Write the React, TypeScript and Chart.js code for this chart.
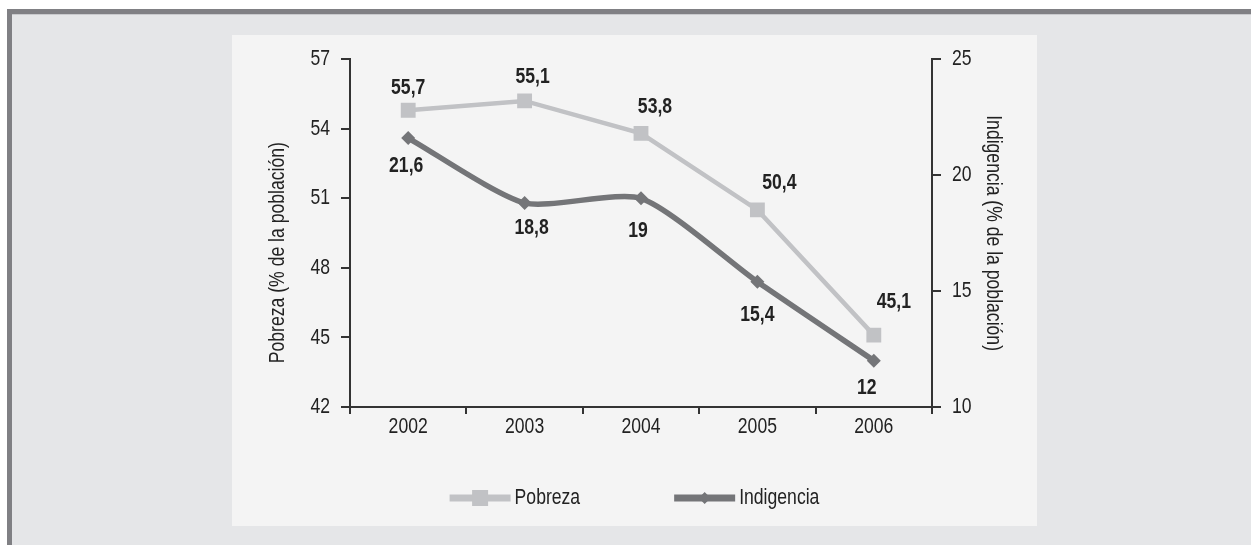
import React, { useEffect, useRef } from "react";
import { Chart, registerables } from "chart.js";

Chart.register(...registerables);

// ---- data ----
const years = ["2002", "2003", "2004", "2005", "2006"];
const pobrezaValues = [54.8, 55.2, 53.8, 50.5, 45.1];
const pobrezaLabels = ["55,7", "55,1", "53,8", "50,4", "45,1"];
const indigenciaValues = [21.6, 18.8, 19.0, 15.4, 12.0];
const indigenciaLabels = ["21,6", "18,8", "19", "15,4", "12"];
const pobrezaTicks = [42, 45, 48, 51, 54, 57];
const indigenciaTicks = [10, 15, 20, 25];
const seriesNames = ["Pobreza", "Indigencia"];
const leftTitle = "Pobreza (% de la población)";
const rightTitle = "Indigencia (% de la población)";

// ---- style / layout ----
const FONT = "'Liberation Sans', Arial, sans-serif";
const FS = 22;
const NARROW = 0.8; // horizontal squeeze to mimic Arial Narrow
const TEXT = "#222222";
const AXIS = "#333333";
const POB_COLOR = "#c1c2c5";
const IND_COLOR = "#747578";
const pobrezaNudge = [[0, -22], [8, -24], [14, -26], [22, -27], [20, -33]];
const indigenciaNudge = [[-2, 28], [7, 25], [-3, 33], [0, 33], [-7, 27]];

const labelsPlugin = {
  id: "valueLabels",
  afterDatasetsDraw(chart: any) {
    const ctx = chart.ctx;
    ctx.save();
    ctx.font = `bold ${FS}px ${FONT}`;
    ctx.fillStyle = TEXT;
    ctx.textAlign = "center";
    ctx.textBaseline = "middle";
    const sets = [
      { meta: chart.getDatasetMeta(0), labels: pobrezaLabels, nudge: pobrezaNudge },
      { meta: chart.getDatasetMeta(1), labels: indigenciaLabels, nudge: indigenciaNudge },
    ];
    sets.forEach(({ meta, labels, nudge }) => {
      meta.data.forEach((pt: any, i: number) => {
        ctx.fillText(labels[i], pt.x + nudge[i][0], pt.y + nudge[i][1]);
      });
    });
    ctx.restore();
  },
};

const legendPlugin = {
  id: "customLegend",
  afterDraw(chart: any) {
    const ctx = chart.ctx;
    ctx.save();
    ctx.font = `${FS}px ${FONT}`;
    ctx.textBaseline = "middle";
    ctx.textAlign = "left";
    const lineLen = 61;
    const gap = 4;
    const between = 94;
    const widths = seriesNames.map((n) => lineLen + gap + ctx.measureText(n).width);
    const total = widths[0] + widths[1] + between;
    let x = (chart.width - total) / 2;
    const y = chart.chartArea.bottom + 91;
    seriesNames.forEach((name, i) => {
      const color = i === 0 ? POB_COLOR : IND_COLOR;
      ctx.strokeStyle = color;
      ctx.lineWidth = 7;
      ctx.beginPath();
      ctx.moveTo(x, y);
      ctx.lineTo(x + lineLen, y);
      ctx.stroke();
      const cx = x + lineLen / 2;
      ctx.fillStyle = color;
      if (i === 0) {
        ctx.fillRect(cx - 8, y - 8, 16, 16);
      } else {
        ctx.beginPath();
        ctx.moveTo(cx - 6, y);
        ctx.lineTo(cx, y - 6);
        ctx.lineTo(cx + 6, y);
        ctx.lineTo(cx, y + 6);
        ctx.closePath();
        ctx.fill();
      }
      ctx.fillStyle = TEXT;
      ctx.fillText(name, x + lineLen + gap, y);
      x += widths[i] + between;
    });
    ctx.restore();
  },
};

function squeezeText(ctx: any) {
  const origFill = ctx.fillText.bind(ctx);
  const origMeasure = ctx.measureText.bind(ctx);
  ctx.fillText = (t: string, x: number, y: number) => {
    ctx.save();
    ctx.translate(x, y);
    ctx.scale(NARROW, 1);
    origFill(t, 0, 0);
    ctx.restore();
  };
  ctx.measureText = (t: string) => {
    const m = origMeasure(t);
    return {
      width: m.width * NARROW,
      actualBoundingBoxAscent: m.actualBoundingBoxAscent,
      actualBoundingBoxDescent: m.actualBoundingBoxDescent,
      actualBoundingBoxLeft: m.actualBoundingBoxLeft * NARROW,
      actualBoundingBoxRight: m.actualBoundingBoxRight * NARROW,
    };
  };
}

function ChartCanvas() {
  const ref = useRef<HTMLCanvasElement | null>(null);
  useEffect(() => {
    if (!ref.current) return;
    squeezeText(ref.current.getContext("2d"));
    const tickFont = { family: FONT, size: FS };
    const chart = new Chart(ref.current, {
      type: "line",
      data: {
        labels: years,
        datasets: [
          {
            label: seriesNames[0],
            data: pobrezaValues,
            yAxisID: "y",
            borderColor: POB_COLOR,
            backgroundColor: POB_COLOR,
            borderWidth: 4.5,
            pointStyle: "rect",
            pointRadius: 10.5,
            pointBorderWidth: 0,
            tension: 0,
          },
          {
            label: seriesNames[1],
            data: indigenciaValues,
            yAxisID: "y1",
            borderColor: IND_COLOR,
            backgroundColor: IND_COLOR,
            borderWidth: 5.5,
            pointStyle: "rectRot",
            pointRadius: 7,
            pointBorderWidth: 0,
            tension: 0.22,
          },
        ],
      },
      options: {
        animation: false,
        responsive: false,
        maintainAspectRatio: false,
        layout: { padding: { top: 24, left: 0, right: 0, bottom: 0 } },
        plugins: { legend: { display: false }, tooltip: { enabled: false } },
        scales: {
          x: {
            type: "category",
            offset: true,
            grid: { offset: true, drawOnChartArea: false, drawTicks: true, tickLength: 7, color: AXIS, lineWidth: 2 },
            border: { display: true, color: AXIS, width: 2 },
            ticks: { font: tickFont, color: TEXT, padding: 0 },
            afterFit: (s: any) => { s.height = 119; },
          },
          y: {
            position: "left",
            min: 42,
            max: 57,
            afterBuildTicks: (s: any) => { s.ticks = pobrezaTicks.map((v) => ({ value: v })); },
            grid: { drawOnChartArea: false, drawTicks: true, tickLength: 9, color: AXIS, lineWidth: 2 },
            border: { display: true, color: AXIS, width: 2 },
            ticks: { font: tickFont, color: TEXT, padding: 11 },
            title: { display: true, text: leftTitle + "        ", font: tickFont, color: TEXT, padding: { top: 33, bottom: 0 } },
            afterFit: (s: any) => { s.width = 118; },
          },
          y1: {
            position: "right",
            min: 10,
            max: 25,
            afterBuildTicks: (s: any) => { s.ticks = indigenciaTicks.map((v) => ({ value: v })); },
            grid: { drawOnChartArea: false, drawTicks: true, tickLength: 9, color: AXIS, lineWidth: 2 },
            border: { display: true, color: AXIS, width: 2 },
            ticks: { font: tickFont, color: TEXT, padding: 11 },
            title: { display: true, text: rightTitle, font: tickFont, color: TEXT, padding: { top: 31, bottom: 0 } },
            afterFit: (s: any) => { s.width = 105; },
          },
        },
      } as any,
      plugins: [labelsPlugin, legendPlugin],
    });
    return () => chart.destroy();
  }, []);
  return (
    <canvas
      ref={ref}
      width={805}
      height={491}
      style={{ position: "absolute", left: 232, top: 35, width: 805, height: 491, background: "#f4f4f4" }}
    />
  );
}

export default function App() {
  return (
    <div style={{ position: "absolute", left: 0, top: 0, width: 1251, height: 545, background: "#ffffff", overflow: "hidden" }}>
      <div style={{ position: "absolute", left: 7, top: 9, right: 0, height: 5, background: "#808084" }} />
      <div style={{ position: "absolute", left: 7, top: 9, width: 5, bottom: 0, background: "#808084" }} />
      <div style={{ position: "absolute", left: 12, top: 14, right: 0, bottom: 0, background: "#e5e6e8", borderTop: "1px solid #c9cacd" }} />
      <ChartCanvas />
    </div>
  );
}
